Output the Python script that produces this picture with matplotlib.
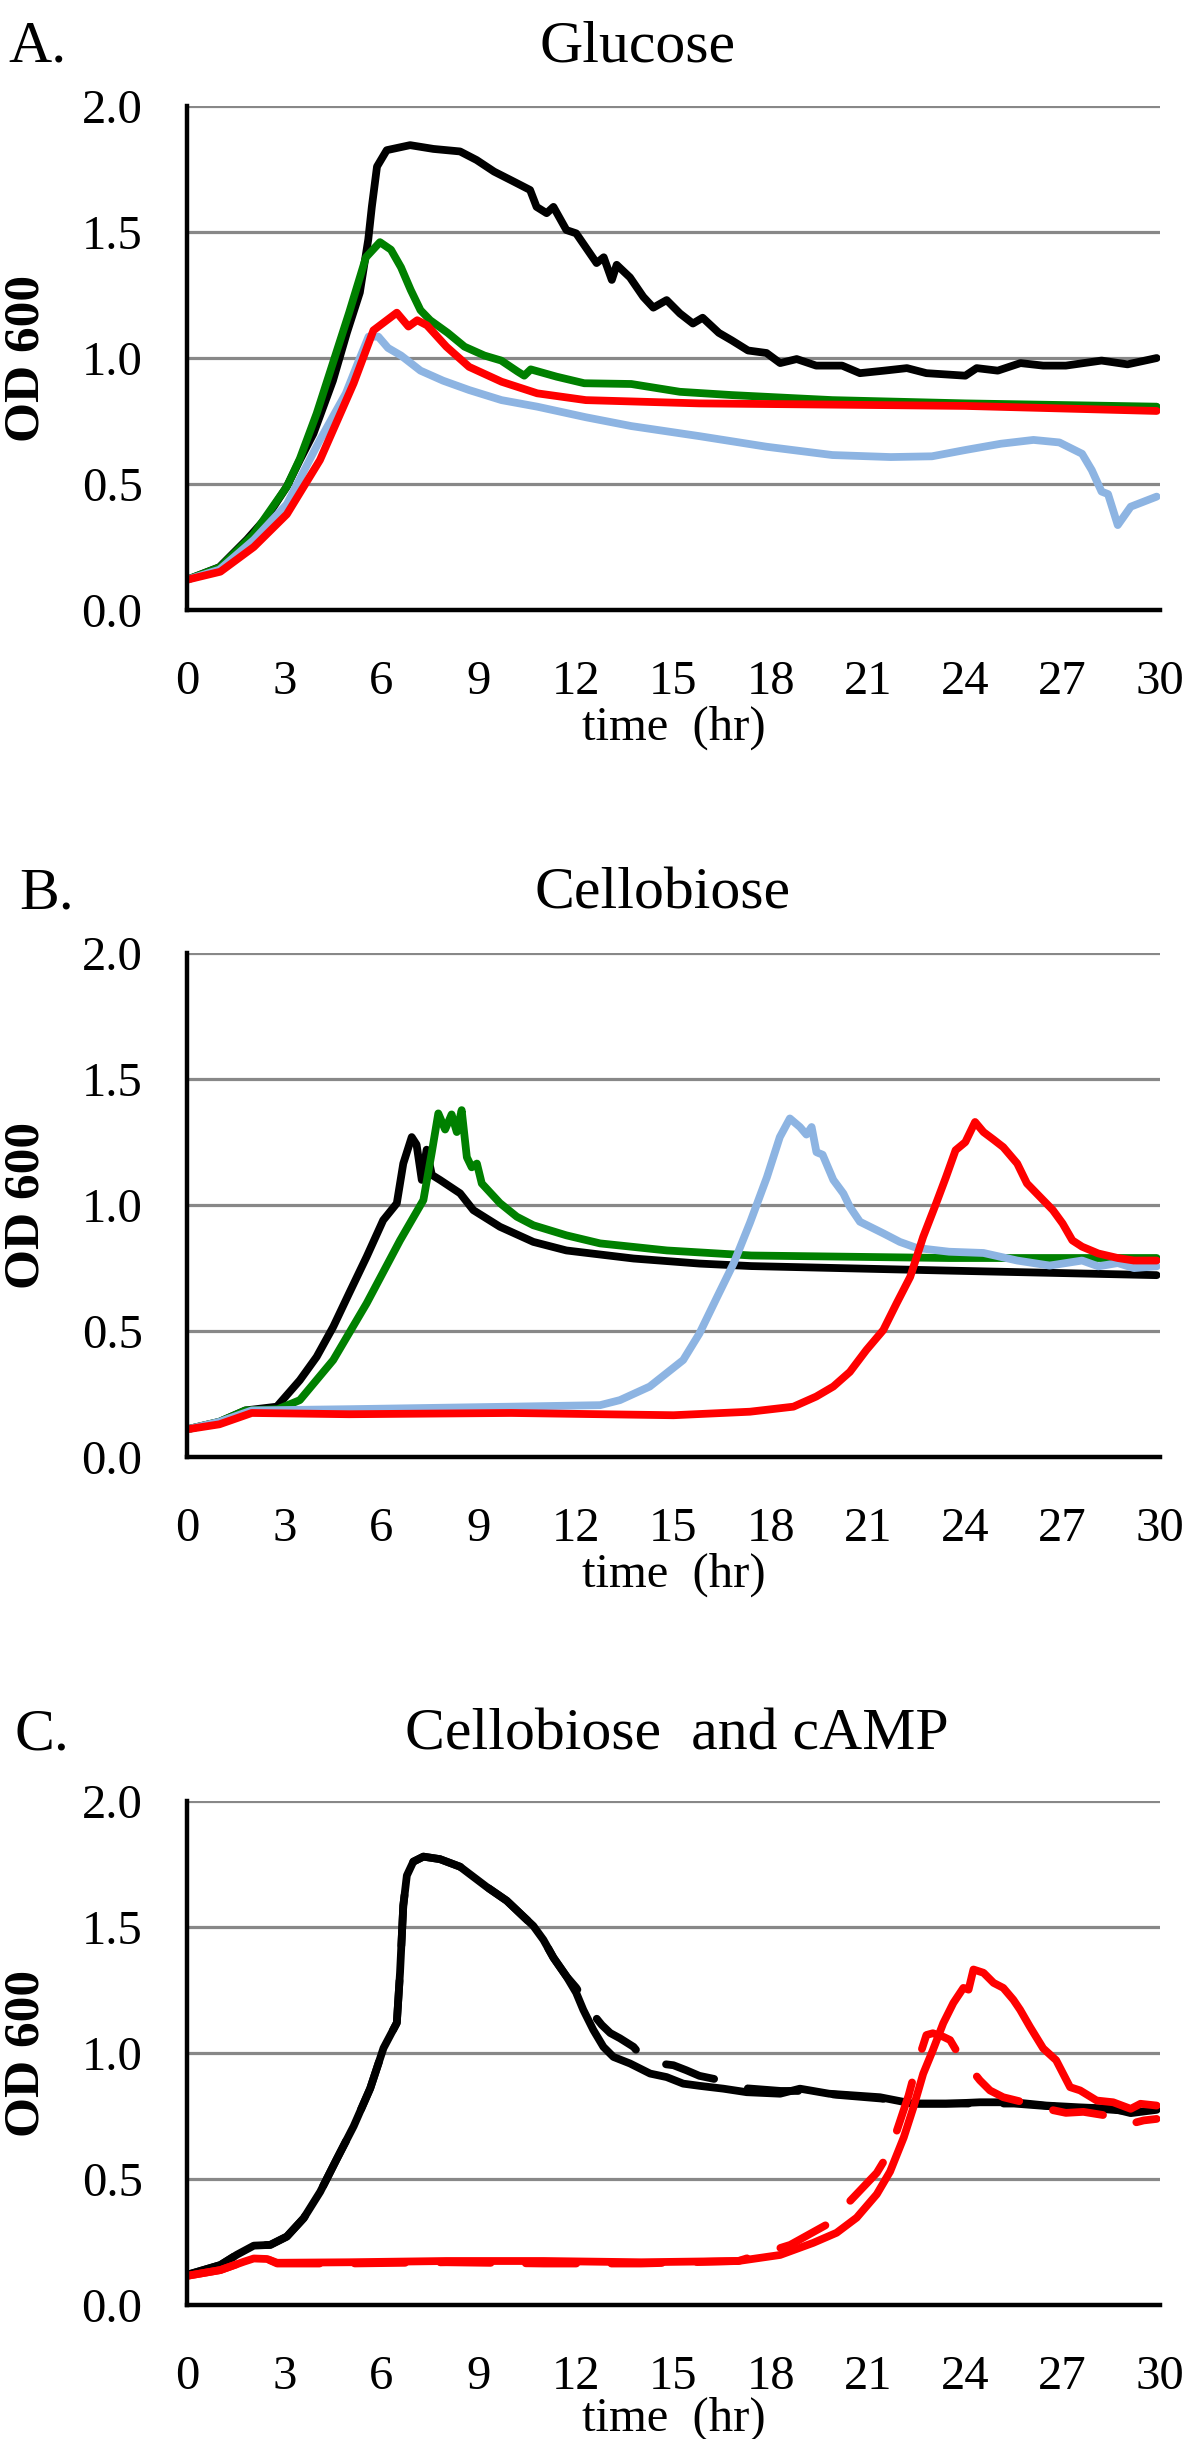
import matplotlib
matplotlib.use("Agg")
import matplotlib.pyplot as plt

plt.rcParams['font.family'] = ['Liberation Serif', 'DejaVu Serif']

# ---- A. Glucose ----
glu_black_t = [0, 1.0, 1.85, 2.47, 3.08, 3.48, 3.9, 4.5, 4.93, 5.33, 5.59, 5.7, 5.86, 6.16, 6.88, 7.6, 8.42,
               8.93, 9.47, 9.99, 10.58, 10.78, 11.09, 11.3, 11.7, 12.0, 12.63, 12.85, 13.1, 13.25, 13.66, 14.07,
               14.38, 14.79, 15.2, 15.6, 15.9, 16.4, 16.8, 17.3, 17.87, 18.29, 18.8, 19.4, 20.2, 20.75, 21.5,
               22.2, 22.8, 24.0, 24.35, 25.0, 25.7, 26.4, 27.1, 28.2, 29.0, 29.9]
glu_black_od = [0.12, 0.17, 0.28, 0.37, 0.49, 0.595, 0.70, 0.91, 1.10, 1.26, 1.47, 1.60, 1.76, 1.825, 1.845, 1.83,
                1.82, 1.786, 1.74, 1.706, 1.667, 1.60, 1.575, 1.60, 1.508, 1.495, 1.377, 1.40, 1.31, 1.37, 1.32,
                1.243, 1.20, 1.23, 1.177, 1.137, 1.16, 1.10, 1.07, 1.03, 1.02, 0.98, 0.996, 0.97, 0.97, 0.94,
                0.95, 0.96, 0.94, 0.93, 0.96, 0.95, 0.98, 0.97, 0.97, 0.99, 0.975, 1.0]

glu_green_t = [0, 1.02, 2.05, 3.08, 3.48, 4.0, 4.5, 5.0, 5.52, 5.95, 6.29, 6.6, 6.9, 7.2, 7.5, 8.04, 8.56,
               9.17, 9.69, 10.2, 10.4, 10.6, 11.4, 12.25, 13.7, 15.2, 16.8, 18.8, 19.9, 24.0, 29.9]
glu_green_od = [0.12, 0.17, 0.30, 0.49, 0.60, 0.78, 0.98, 1.18, 1.40, 1.46, 1.43, 1.36, 1.27, 1.19, 1.15, 1.10,
                1.045, 1.01, 0.99, 0.946, 0.93, 0.955, 0.926, 0.90, 0.897, 0.866, 0.853, 0.84, 0.833, 0.82, 0.807]

glu_blue_t = [0, 1.0, 2.06, 3.08, 4.1, 4.9, 5.3, 5.6, 5.9, 6.2, 6.6, 7.2, 7.9, 8.7, 9.7, 10.8, 12.3, 13.7,
              15.8, 17.87, 19.9, 21.7, 22.97, 24.0, 25.1, 26.1, 26.9, 27.6, 27.9, 28.2, 28.4, 28.7, 29.1, 29.9]
glu_blue_od = [0.12, 0.16, 0.278, 0.42, 0.675, 0.86, 0.99, 1.085, 1.085, 1.04, 1.01, 0.95, 0.91, 0.873, 0.833,
               0.807, 0.765, 0.73, 0.69, 0.648, 0.615, 0.607, 0.61, 0.635, 0.66, 0.675, 0.665, 0.62, 0.555,
               0.47, 0.46, 0.337, 0.41, 0.45]

glu_red_t = [0, 1.03, 2.06, 3.08, 4.1, 5.14, 5.75, 6.47, 6.83, 7.1, 7.4, 8.0, 8.7, 9.7, 10.8, 12.3, 15.8,
             20.0, 24.0, 29.9]
glu_red_od = [0.12, 0.152, 0.25, 0.38, 0.595, 0.90, 1.11, 1.18, 1.125, 1.15, 1.13, 1.045, 0.965, 0.906, 0.86,
              0.833, 0.82, 0.815, 0.81, 0.79]

# ---- B. Cellobiose ----
cel_black_t = [0, 1.0, 1.8, 2.77, 3.48, 4.0, 4.51, 5.0, 5.54, 6.05, 6.47, 6.67, 6.93, 7.08, 7.24, 7.39, 7.55,
               7.8, 8.42, 8.83, 9.65, 10.68, 11.7, 13.77, 15.8, 17.4, 23.5, 29.9]
cel_black_od = [0.11, 0.14, 0.185, 0.20, 0.305, 0.398, 0.517, 0.65, 0.795, 0.94, 1.007, 1.165, 1.27, 1.24, 1.10,
                1.22, 1.12, 1.10, 1.047, 0.98, 0.914, 0.854, 0.82, 0.788, 0.768, 0.758, 0.74, 0.722]

cel_green_t = [0, 1.0, 1.8, 2.8, 3.48, 4.51, 5.54, 6.57, 7.29, 7.55, 7.75, 7.96, 8.16, 8.32, 8.47, 8.63, 8.78,
               8.94, 9.09, 9.65, 10.17, 10.68, 11.7, 12.74, 14.8, 17.4, 23.5, 29.9]
cel_green_od = [0.11, 0.14, 0.185, 0.19, 0.226, 0.385, 0.61, 0.86, 1.02, 1.21, 1.364, 1.30, 1.36, 1.29, 1.377,
                1.19, 1.15, 1.165, 1.086, 1.008, 0.954, 0.92, 0.88, 0.848, 0.82, 0.80, 0.79, 0.79]

cel_blue_t = [0, 1.0, 2.0, 5.0, 10.0, 12.74, 13.35, 14.27, 15.3, 15.8, 16.35, 16.86, 17.36, 17.88, 18.28,
              18.59, 18.9, 19.1, 19.26, 19.41, 19.6, 19.93, 20.24, 20.44, 20.75, 21.47, 21.98, 22.5, 23.5,
              24.56, 25.6, 26.6, 27.6, 28.1, 28.7, 29.2, 29.9]
cel_blue_od = [0.11, 0.14, 0.185, 0.19, 0.20, 0.206, 0.226, 0.28, 0.385, 0.49, 0.636, 0.77, 0.93, 1.11, 1.27,
               1.344, 1.31, 1.28, 1.31, 1.21, 1.20, 1.10, 1.046, 0.993, 0.934, 0.888, 0.854, 0.83, 0.815,
               0.81, 0.78, 0.76, 0.78, 0.757, 0.77, 0.75, 0.757]

cel_red_t = [0, 1.0, 2.0, 5.0, 10.0, 15.0, 17.36, 18.7, 19.4, 19.93, 20.44, 20.95, 21.47, 21.88, 22.3, 22.7,
             23.1, 23.4, 23.7, 24.0, 24.3, 24.56, 24.87, 25.17, 25.6, 25.9, 26.3, 26.7, 27.0, 27.3, 27.6,
             28.1, 28.7, 29.2, 29.9]
cel_red_od = [0.11, 0.13, 0.175, 0.17, 0.175, 0.166, 0.18, 0.20, 0.24, 0.28, 0.338, 0.425, 0.504, 0.61,
              0.715, 0.874, 1.007, 1.11, 1.218, 1.25, 1.33, 1.29, 1.26, 1.23, 1.165, 1.086, 1.033, 0.98,
              0.927, 0.86, 0.835, 0.808, 0.79, 0.78, 0.78]

# ---- C. Cellobiose and cAMP ----
camp_black_t = [0, 1.03, 1.54, 2.06, 2.57, 3.08, 3.6, 4.11, 4.62, 5.14, 5.65, 6.06, 6.47, 6.57, 6.67, 6.78,
                6.98, 7.29, 7.8, 8.42, 8.83, 9.24, 9.86, 10.4, 10.68, 10.99, 11.3, 11.7, 12.0, 12.22, 12.53,
                12.84, 13.15, 13.66, 14.28, 14.79, 15.3, 15.82, 16.54, 17.26, 18.29, 18.9, 19.8, 21.37,
                22.4, 23.4, 24.45, 25.5, 26.5, 27.5, 28.56, 29.1, 29.9]
camp_black_od = [0.12, 0.159, 0.2, 0.236, 0.239, 0.272, 0.345, 0.45, 0.58, 0.71, 0.86, 1.02, 1.12, 1.32,
                 1.585, 1.705, 1.76, 1.78, 1.77, 1.74, 1.70, 1.66, 1.605, 1.539, 1.505, 1.45, 1.379, 1.305,
                 1.24, 1.172, 1.092, 1.025, 0.985, 0.959, 0.919, 0.905, 0.879, 0.87, 0.859, 0.845, 0.839,
                 0.859, 0.839, 0.825, 0.799, 0.799, 0.805, 0.805, 0.792, 0.785, 0.779, 0.762, 0.775]

camp_black2_t = [0, 1.03, 1.54, 2.06, 2.57, 3.08, 3.6, 4.11, 4.62, 5.14, 5.65, 6.06, 6.47, 6.57, 6.67, 6.78,
                 6.98, 7.29, 7.8, 8.42, 8.83, 9.24, 9.86, 10.4, 10.68, 10.99, 11.3, 11.7, 12.0, 12.3, 12.55,
                 12.79, 13.05, 13.35, 13.77, 14.07, 14.5, 15.0, 15.4, 15.8, 16.54, 17.3, 18.3, 19.0, 20.0,
                 21.4, 22.4, 23.4, 24.45, 25.5, 26.5, 27.5, 28.56, 29.1, 29.9]
camp_black2_od = [0.12, 0.159, 0.2, 0.236, 0.239, 0.272, 0.345, 0.45, 0.58, 0.71, 0.86, 1.02, 1.12, 1.32,
                  1.585, 1.705, 1.76, 1.78, 1.77, 1.74, 1.70, 1.66, 1.605, 1.539, 1.505, 1.45, 1.379, 1.305,
                  1.26, 1.20, 1.15, 1.112, 1.08, 1.059, 1.025, 0.979, 0.96, 0.952, 0.932, 0.91, 0.89, 0.86,
                  0.85, 0.85, 0.835, 0.82, 0.80, 0.80, 0.80, 0.80, 0.79, 0.785, 0.775, 0.77, 0.77]

camp_red_t = [0, 1.03, 1.75, 2.06, 2.47, 2.78, 5.0, 8.0, 11.0, 14.0, 17.0, 18.29, 19.31, 20.03, 20.65, 21.27,
              21.68, 22.1, 22.4, 22.7, 23.0, 23.32, 23.63, 23.94, 24.1, 24.25, 24.56, 24.87, 25.17, 25.48,
              25.69, 25.99, 26.4, 26.8, 27.23, 27.54, 28.05, 28.56, 29.1, 29.4, 29.9]
camp_red_od = [0.116, 0.139, 0.172, 0.185, 0.183, 0.168, 0.17, 0.175, 0.175, 0.17, 0.175, 0.199, 0.247,
               0.287, 0.347, 0.44, 0.53, 0.665, 0.785, 0.918, 1.012, 1.119, 1.199, 1.259, 1.252, 1.332, 1.319,
               1.279, 1.259, 1.212, 1.172, 1.105, 1.019, 0.972, 0.865, 0.852, 0.812, 0.805, 0.779, 0.799,
               0.792]

camp_red2_t = [0, 1.03, 1.75, 2.06, 2.47, 2.78, 5.0, 8.0, 11.0, 14.0, 17.0, 18.6, 19.72, 19.9, 21.27, 21.68,
               22.25, 22.5, 22.8, 23.0, 23.32, 23.53, 23.99, 24.2, 24.45, 24.76, 25.17, 25.99, 26.5, 27.1,
               27.64, 28.6, 29.1, 29.5, 29.9]
camp_red2_od = [0.116, 0.139, 0.172, 0.185, 0.183, 0.165, 0.165, 0.17, 0.165, 0.165, 0.175, 0.239, 0.319,
                0.339, 0.525, 0.612, 0.832, 0.952, 1.072, 1.079, 1.065, 1.052, 0.952, 0.932, 0.892, 0.852,
                0.825, 0.799, 0.779, 0.763, 0.767, 0.747, 0.72, 0.733, 0.739]

x_ticks = list(range(0, 31, 3))
y_ticks = [0.0, 0.5, 1.0, 1.5, 2.0]

BLACK = '#000000'
GREEN = '#008000'
BLUE = '#8DB4E2'
RED = '#FF0000'
LW = 5.6
DASH = (0, (6.5, 4.5))

panels = [
    ("A.", "Glucose", 0.7499, 0.9746, 0.007, 638, 1,
     [(glu_black_t, glu_black_od, BLACK, '-'), (glu_green_t, glu_green_od, GREEN, '-'),
      (glu_blue_t, glu_blue_od, BLUE, '-'), (glu_red_t, glu_red_od, RED, '-')]),
    ("B.", "Cellobiose", 0.4026, 0.6277, 0.016, 663, 1,
     [(cel_black_t, cel_black_od, BLACK, '-'), (cel_green_t, cel_green_od, GREEN, '-'),
      (cel_blue_t, cel_blue_od, BLUE, '-'), (cel_red_t, cel_red_od, RED, '-')]),
    ("C.", "Cellobiose  and cAMP", 0.0549, 0.2825, 0.012, 677, -2,
     [(camp_black_t, camp_black_od, BLACK, '-'), (camp_black2_t, camp_black2_od, BLACK, DASH),
      (camp_red_t, camp_red_od, RED, '-'), (camp_red2_t, camp_red2_od, RED, DASH)]),
]

fig = plt.figure(figsize=(12, 24.39), dpi=100)

for letter, title, bottom, ty, lx, tx, xpad, series in panels:
    ax = fig.add_axes([0.1558, bottom, 0.8108, 0.2066])
    for t, od, c, ls in series:
        ax.plot(t, od, color=c, lw=LW, ls=ls, solid_capstyle='round', dash_capstyle='round',
                solid_joinstyle='round', dash_joinstyle='round', zorder=3)
    ax.set_xlim(0, 30)
    ax.set_ylim(0, 2.0)
    ax.set_xticks(x_ticks)
    ax.set_yticks(y_ticks)
    ax.set_yticklabels([f"{v:.1f}" for v in y_ticks])
    ax.tick_params(axis='both', length=0, labelsize=35)
    ax.tick_params(axis='y', pad=32)
    ax.tick_params(axis='x', pad=36)
    ax.grid(axis='y', color='#888888', lw=2.3, zorder=0)
    ax.set_axisbelow(True)
    for s in ['top', 'right']:
        ax.spines[s].set_visible(False)
    for s in ['left', 'bottom']:
        ax.spines[s].set_color('black')
        ax.spines[s].set_linewidth(3.2)
        ax.spines[s].set_zorder(4)
    ax.set_xlabel("time  (hr)", fontsize=35, labelpad=xpad)
    ax.set_ylabel("OD 600", fontsize=37, fontweight='bold')
    ax.yaxis.set_label_coords(-0.141, 0.5)
    fig.text(lx, ty, letter, fontsize=43, ha='left', va='baseline')
    fig.text(tx / 1200, ty, title, fontsize=43, ha='center', va='baseline')

fig.savefig("out.png", dpi=100)
